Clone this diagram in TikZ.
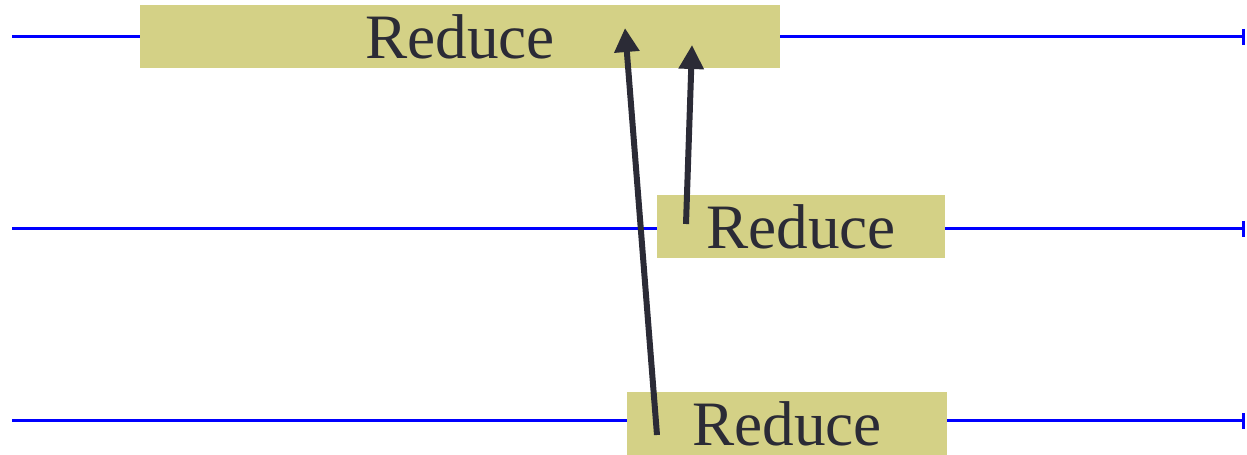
\documentclass[tikz,border=0pt]{standalone}
\usepackage{fontspec}
\setmainfont{Liberation Serif}
\usepackage{xcolor}
\usepackage{tikz}
\usetikzlibrary{arrows.meta,calc,positioning}
\definecolor{boxfill}{RGB}{212,209,134}
\definecolor{inkdark}{RGB}{43,43,54}

\begin{document}
\begin{tikzpicture}[
            x=0.02cm, y=-0.02cm,
            time_line/.style={-{Bar[width=0.32cm]}, blue, line width=0.06cm},
            reduce_box/.style={
                fill=boxfill,
                inner sep=0pt,
                minimum height=1.26cm,
                text=inkdark,
                font=\fontsize{36}{40}\selectfont
            },
            send_arrow/.style={-{Triangle[length=0.48cm,width=0.48cm]}, inkdark, line width=0.12cm}
        ]
        \useasboundingbox (0,0) rectangle (1247,455);

        % Time lines
        \draw[time_line] (12,37) -- (1245,37);
        \draw[time_line] (12,229) -- (1245,229);
        \draw[time_line] (12,421) -- (1245,421);

        % Reduce boxes
        \node (redTop) [reduce_box, minimum width=12.8cm] at (460,36.5) {Reduce};
        \node (redMid) [reduce_box, minimum width=5.76cm] at (801,226.5) {Reduce};
        \node (redBot) [reduce_box, minimum width=6.4cm] at (787,423.5) {Reduce};

        % Arrows into the top reduce
        \draw[send_arrow] ($(redBot)+(-130,11.5)$) -- ($(redTop)+(165,-8.5)$);
        \draw[send_arrow] ($(redMid)+(-115,-2.5)$) -- ($(redTop)+(232,8.5)$);
\end{tikzpicture}
\end{document}
